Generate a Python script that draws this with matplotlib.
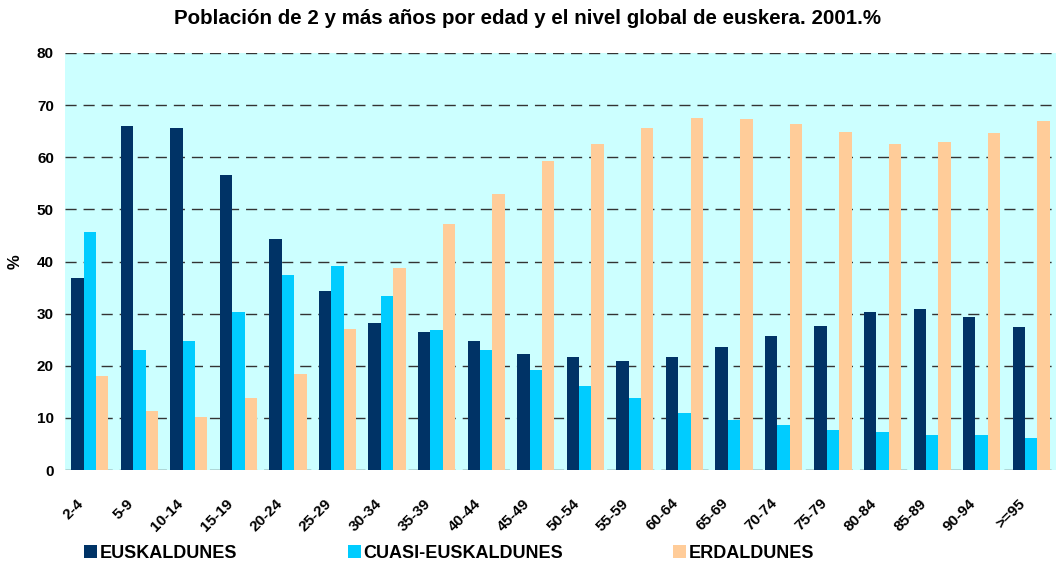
import numpy as np
import matplotlib
matplotlib.use("Agg")
import matplotlib.pyplot as plt
from matplotlib.transforms import ScaledTranslation

ages = ["2-4", "5-9", "10-14", "15-19", "20-24", "25-29", "30-34", "35-39",
        "40-44", "45-49", "50-54", "55-59", "60-64", "65-69", "70-74",
        "75-79", "80-84", "85-89", "90-94", ">=95"]

euskaldunes = [36.8, 65.9, 65.7, 56.5, 44.4, 34.3, 28.2, 26.4, 24.7, 22.2,
               21.6, 20.9, 21.6, 23.6, 25.7, 27.6, 30.3, 30.8, 29.3, 27.4]
cuasi = [45.6, 23.0, 24.7, 30.3, 37.4, 39.1, 33.3, 26.8, 23.0, 19.2,
         16.1, 13.8, 10.9, 9.6, 8.6, 7.7, 7.3, 6.7, 6.7, 6.1]
erdaldunes = [18.0, 11.3, 10.2, 13.8, 18.4, 27.0, 38.7, 47.1, 52.9, 59.2,
              62.5, 65.7, 67.6, 67.4, 66.3, 64.9, 62.6, 63.0, 64.6, 66.9]

series = [("EUSKALDUNES", euskaldunes, "#003366"),
          ("CUASI-EUSKALDUNES", cuasi, "#00CCFF"),
          ("ERDALDUNES", erdaldunes, "#FFCC99")]

plt.rcParams["font.family"] = ["Liberation Sans", "DejaVu Sans"]

fig = plt.figure(figsize=(10.56, 5.63), dpi=100)
ax = fig.add_axes([65 / 1056, 93 / 563, 991 / 1056, 417 / 563])
ax.set_facecolor("#CCFFFF")

x = np.arange(len(ages))
w = 0.25
for i, (name, vals, col) in enumerate(series):
    ax.bar(x + (i - 1) * w, vals, width=w, color=col, label=name,
           zorder=3, linewidth=0)

ax.set_xlim(-0.5, len(ages) - 0.5)
ax.set_ylim(0, 80)
ax.set_yticks(range(0, 81, 10))
ax.yaxis.grid(True, color="#333333", linestyle=(0, (8, 5)), linewidth=1,
              zorder=1)
for s in ax.spines.values():
    s.set_visible(False)
ax.tick_params(axis="both", length=0)
ax.tick_params(axis="y", pad=8)
for lab in ax.get_yticklabels():
    lab.set_fontweight("bold")
    lab.set_fontsize(11)

ax.set_xticks(x)
ax.set_xticklabels(ages, rotation=45, ha="right", rotation_mode="anchor",
                   fontsize=11, fontweight="bold")
ax.tick_params(axis="x", pad=16)
shift = ScaledTranslation(-13 / 100, -4 / 100, fig.dpi_scale_trans)
for lab in ax.get_xticklabels():
    lab.set_transform(lab.get_transform() + shift)

ax.set_ylabel("%", fontsize=12, fontweight="bold", labelpad=10)

fig.text(0.5, 1 - 18 / 563, "Población de 2 y más años por edad y el nivel global de euskera. 2001.%",
         ha="center", va="center", fontsize=14.8, fontweight="bold")

fig.legend(loc="center left", bbox_to_anchor=(68 / 1056, 1 - 553 / 563), ncol=3,
           frameon=False, prop={"weight": "bold", "size": 13},
           handlelength=0.72, handleheight=0.7, handletextpad=0.15,
           columnspacing=6.1)

fig.savefig("out.png", dpi=100)
